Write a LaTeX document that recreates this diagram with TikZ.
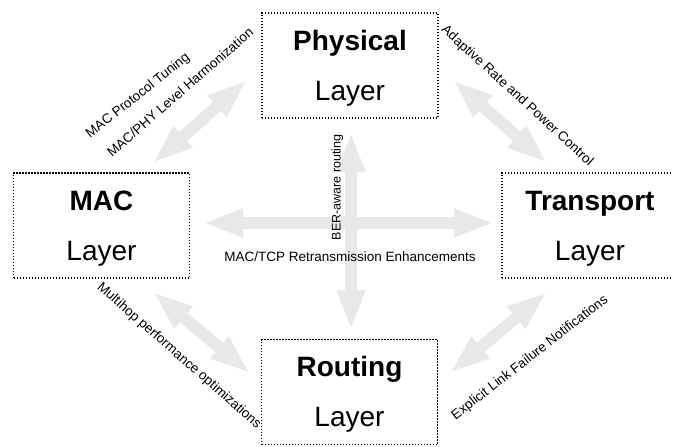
\documentclass[tikz,border=0pt]{standalone}
\usepackage{fontspec}
\setmainfont{Liberation Sans}
\usetikzlibrary{arrows.meta}

\tikzset{
  layerbox/.style={draw, line width=1.2pt, dash pattern=on 1.2pt off 1.8pt,
    minimum width=176pt, minimum height=105pt, inner sep=0pt, align=center,
    font=\fontsize{28}{50}\selectfont},
  link/.style={draw=gray!18, line width=12pt,
    {Triangle[width=26pt,length=40pt]}-{Triangle[width=26pt,length=40pt]}},
  note/.style={inner sep=0pt, font=\fontsize{13.5}{14}\selectfont}
}
\newcommand{\lay}[1]{\rule{0pt}{25pt}\textbf{#1}\\Layer}

\begin{document}
\begin{tikzpicture}[x=1pt,y=-1pt]
  \useasboundingbox (0,0) rectangle (673,447);
  \clip (0,0) rectangle (673,447);
  % the four layers
  \node[layerbox] (phy) at (350,65.5)   {\lay{Physical}};
  \node[layerbox] (mac) at (101.5,225.5) {\lay{MAC}};
  \node[layerbox] (tra) at (590,225.5)   {\lay{Transport}};
  \node[layerbox] (rou) at (349.5,392)   {\lay{Routing}};
  % arrow ends
  \coordinate (macN) at (153,163);  \coordinate (phyW) at (247,80);
  \coordinate (phyE) at (453,80);   \coordinate (traN) at (547,163);
  \coordinate (macS) at (153,292);  \coordinate (rouW) at (250,373);
  \coordinate (rouE) at (450,373);  \coordinate (traS) at (547,292);
  \coordinate (macE) at (203,223);  \coordinate (traW) at (494,223);
  \coordinate (phyS) at (351,132);  \coordinate (rouN) at (351,330);
  \draw[link] (macN) -- (phyW);
  \draw[link] (phyE) -- (traN);
  \draw[link] (macS) -- (rouW);
  \draw[link] (rouE) -- (traS);
  \draw[link] (macE) -- (traW);
  \draw[link] (phyS) -- (rouN);
  % cross-layer labels
  \node[note,rotate=38.5]  (tun) at (138,96)  {MAC Protocol Tuning};
  \node[note,rotate=41]    (har) at (180,92)  {MAC/PHY Level Harmonization};
  \node[note,rotate=-42.5] (pow) at (517,96)  {Adaptive Rate and Power Control};
  \node[note,rotate=-41.3] (mho) at (179,356) {Multihop performance optimizations};
  \node[note,rotate=37.8]  (eln) at (530,358) {Explicit Link Failure Notifications};
  \node[note,rotate=90,font=\fontsize{12.5}{13}\selectfont] (ber) at (337.5,187.5) {BER-aware routing};
  \node[note] (ret) at (350,257) {MAC/TCP Retransmission Enhancements};
\end{tikzpicture}
\end{document}
